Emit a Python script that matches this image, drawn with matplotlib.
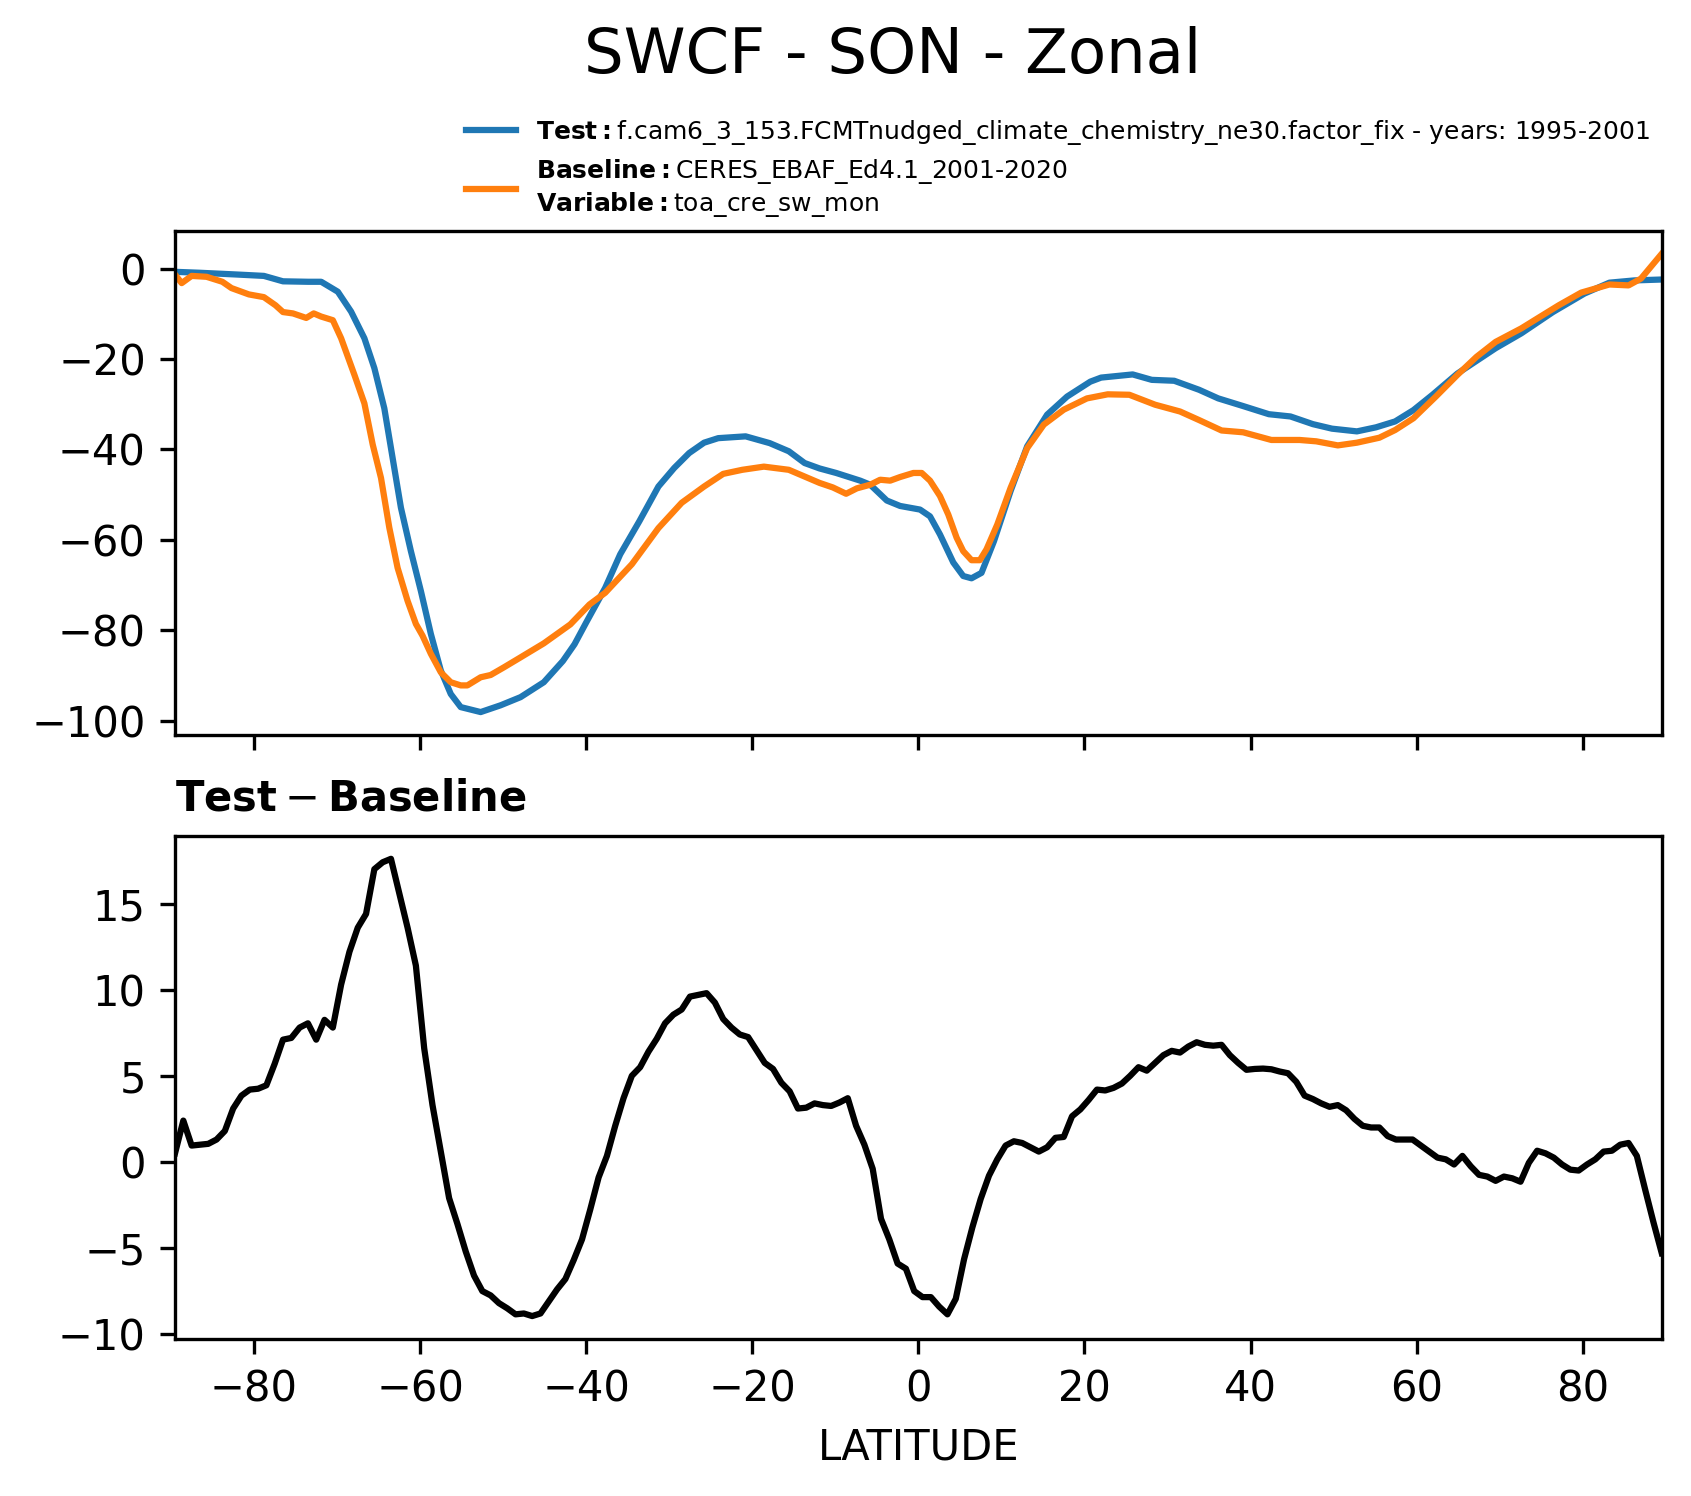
import matplotlib
matplotlib.use("Agg")
import matplotlib.pyplot as plt
import numpy as np

# test case (blue)
test_lat = [-89.5, -86.6, -82.0, -78.8, -76.5, -73.5, -71.9, -69.9, -68.3, -66.7,
            -65.5, -64.3, -63.3, -62.3, -61.1, -59.9, -58.7, -57.5, -56.3, -55.1,
            -52.7, -50.3, -47.9, -45.1, -42.8, -41.4, -40.0, -37.7, -35.9, -33.6,
            -31.3, -29.4, -27.6, -25.8, -24.1, -20.8, -17.9, -15.6, -13.7, -11.9,
            -9.9, -7.0, -5.8, -3.8, -2.2, 0.2, 1.4, 2.6, 4.2, 5.4,
            6.4, 7.6, 9.1, 11.1, 13.1, 15.5, 17.9, 20.7, 22.0, 25.8,
            28.1, 30.8, 33.8, 36.1, 39.1, 42.2, 44.8, 47.5, 49.8, 52.8,
            55.1, 57.4, 59.6, 61.9, 64.9, 69.5, 72.6, 76.4, 80.2, 83.2,
            86.2, 89.5]
test_val = [-0.7, -0.9, -1.3, -1.6, -2.8, -2.9, -2.9, -5.1, -9.5, -15.4,
            -22.0, -30.9, -41.9, -52.9, -62.5, -71.3, -80.8, -88.9, -94.1, -97.0,
            -98.1, -96.6, -94.8, -91.5, -86.8, -83.1, -78.3, -70.6, -63.2, -55.9,
            -48.2, -44.1, -40.8, -38.5, -37.5, -37.1, -38.6, -40.4, -43.0, -44.2,
            -45.2, -46.9, -47.8, -51.3, -52.5, -53.3, -54.8, -58.8, -65.0, -68.0,
            -68.5, -67.3, -60.3, -49.2, -39.3, -32.3, -28.3, -25.0, -24.1, -23.4,
            -24.6, -24.8, -26.8, -28.7, -30.4, -32.2, -32.7, -34.4, -35.4, -36.0,
            -35.1, -33.8, -31.3, -27.9, -23.2, -17.6, -14.3, -9.6, -5.5, -3.1,
            -2.6, -2.4]

# baseline (orange)
base_lat = [-89.5, -88.7, -87.5, -85.7, -83.8, -82.7, -80.6, -78.8, -77.4, -76.5,
            -75.3, -73.7, -72.8, -71.9, -70.5, -69.5, -67.9, -66.7, -65.7, -64.7,
            -63.7, -62.7, -61.5, -60.5, -59.7, -58.7, -57.5, -56.3, -55.1, -54.3,
            -52.7, -51.5, -49.9, -47.9, -45.1, -41.9, -39.6, -37.7, -34.5, -31.3,
            -28.5, -25.8, -23.5, -21.2, -18.6, -15.6, -11.9, -10.3, -8.7, -7.4,
            -5.8, -4.6, -3.4, -2.2, -0.6, 0.4, 1.4, 2.6, 3.6, 4.6,
            5.4, 6.4, 7.4, 8.2, 9.5, 11.1, 13.1, 15.1, 17.5, 20.3,
            22.8, 25.4, 28.5, 31.5, 33.8, 36.5, 39.1, 42.5, 45.9, 47.9,
            50.5, 52.8, 55.5, 57.4, 59.6, 62.3, 64.9, 67.2, 69.5, 72.6,
            74.8, 77.1, 79.8, 83.2, 85.5, 87.0, 89.5]
base_val = [-1.3, -3.2, -1.6, -1.8, -2.9, -4.3, -5.7, -6.3, -8.1, -9.6,
            -9.9, -10.9, -9.9, -10.6, -11.4, -15.4, -23.5, -29.8, -38.9, -46.3,
            -57.3, -66.2, -73.5, -78.6, -81.2, -85.2, -89.3, -91.5, -92.2, -92.2,
            -90.4, -89.9, -88.2, -86.0, -82.9, -78.7, -74.3, -71.7, -65.4, -57.4,
            -51.8, -48.2, -45.4, -44.5, -43.8, -44.5, -47.4, -48.4, -49.8, -48.6,
            -47.8, -46.7, -46.9, -46.1, -45.2, -45.2, -46.9, -50.3, -54.4, -59.5,
            -62.5, -64.5, -64.5, -62.1, -56.6, -48.5, -39.7, -34.5, -31.2, -28.7,
            -27.8, -27.9, -30.1, -31.6, -33.5, -35.8, -36.2, -37.9, -37.9, -38.2,
            -39.1, -38.5, -37.4, -35.7, -33.1, -28.3, -23.5, -19.5, -16.2, -13.2,
            -10.7, -8.1, -5.3, -3.5, -3.7, -2.2, 3.3]

# test - baseline on the 1 degree grid
diff_lat = np.arange(-89.5, 90.0, 1.0)
diff_val = [0.5, 2.4, 0.95, 1.0, 1.05, 1.3, 1.8, 3.1, 3.85, 4.2,
            4.25, 4.45, 5.7, 7.1, 7.2, 7.8, 8.05, 7.1, 8.25, 7.8,
            10.3, 12.2, 13.6, 14.4, 17.0, 17.4, 17.6, 15.6, 13.6, 11.4,
            6.6, 3.3, 0.6, -2.1, -3.6, -5.2, -6.6, -7.5, -7.75, -8.2,
            -8.5, -8.85, -8.8, -8.95, -8.8, -8.1, -7.4, -6.8, -5.7, -4.5,
            -2.75, -0.9, 0.35, 2.1, 3.7, 5.0, 5.5, 6.4, 7.15, 8.05,
            8.55, 8.85, 9.6, 9.7, 9.8, 9.25, 8.3, 7.8, 7.4, 7.25,
            6.5, 5.75, 5.4, 4.6, 4.1, 3.1, 3.15, 3.4, 3.3, 3.25,
            3.45, 3.7, 2.1, 1.0, -0.4, -3.3, -4.5, -5.9, -6.2, -7.5,
            -7.85, -7.85, -8.4, -8.85, -7.95, -5.65, -3.8, -2.15, -0.8, 0.15,
            0.95, 1.2, 1.1, 0.85, 0.6, 0.85, 1.4, 1.45, 2.65, 3.05,
            3.6, 4.2, 4.15, 4.3, 4.55, 5.0, 5.5, 5.3, 5.75, 6.2,
            6.45, 6.35, 6.7, 6.95, 6.8, 6.75, 6.8, 6.2, 5.75, 5.35,
            5.4, 5.42, 5.38, 5.25, 5.15, 4.65, 3.85, 3.65, 3.4, 3.2,
            3.3, 3.0, 2.5, 2.1, 2.0, 2.0, 1.5, 1.3, 1.3, 1.3,
            0.95, 0.6, 0.25, 0.15, -0.15, 0.35, -0.25, -0.75, -0.85, -1.1,
            -0.85, -0.95, -1.15, -0.05, 0.65, 0.5, 0.25, -0.15, -0.45, -0.5,
            -0.15, 0.15, 0.6, 0.65, 1.0, 1.1, 0.35, -1.6, -3.5, -5.3]

test_label = r"$\bf{Test}:$" + "f.cam6_3_153.FCMTnudged_climate_chemistry_ne30.factor_fix - years: 1995-2001"
base_label = (r"$\bf{Baseline}:$" + "CERES_EBAF_Ed4.1_2001-2020" + "\n"
              + r"$\bf{Variable}:$" + "toa_cre_sw_mon")

fig = plt.figure(figsize=(1691 / 300, 1496 / 300), dpi=300)
ax1 = fig.add_axes([0.1035, 0.5087, 0.8792, 0.3370])
ax2 = fig.add_axes([0.1035, 0.1050, 0.8792, 0.3362], sharex=ax1)

ax1.plot(test_lat, test_val, color="#1f77b4", lw=1.5, label=test_label)
ax1.plot(base_lat, base_val, color="#ff7f0e", lw=1.5, label=base_label)
ax1.set_xlim(-89.5, 89.5)
ax1.set_xticks(np.arange(-80, 81, 20))
ax1.tick_params(labelbottom=False)

ax2.plot(diff_lat, diff_val, color="k", lw=1.5)
ax2.set_title(r"$\mathbf{Test} - \mathbf{Baseline}$", loc="left", fontsize=10)
ax2.set_xlabel("LATITUDE")

fig.legend(loc="upper left", bbox_to_anchor=(0.2756, 0.921), frameon=False,
           fontsize=6, borderpad=0, borderaxespad=0, labelspacing=0.4)

fig.text(0.528, 0.9626, "SWCF - SON - Zonal", ha="center", va="center", fontsize=15)

fig.savefig("out.png", dpi=300)
